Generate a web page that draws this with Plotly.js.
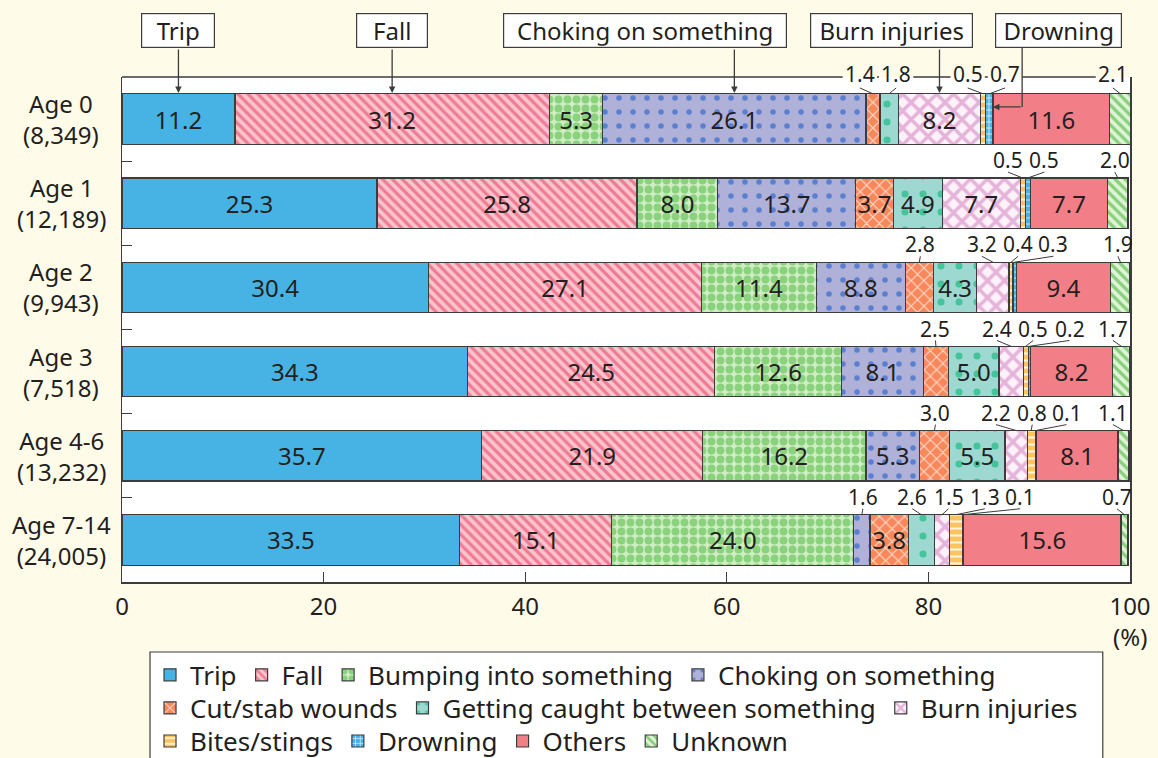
<!DOCTYPE html>
<html><head><meta charset="utf-8">
<script src="https://cdn.plot.ly/plotly-3.0.1.min.js"></script>
<style>html,body{margin:0;padding:0;background:#fffbe9;} #chart{width:1158px;height:758px;}</style>
</head><body><div id="chart"></div>
<script>
// ---------------- data ----------------
const ageGroups = ['Age 0', 'Age 1', 'Age 2', 'Age 3', 'Age 4-6', 'Age 7-14'];
const sampleSizes = ['8,349', '12,189', '9,943', '7,518', '13,232', '24,005'];
const causes = ['Trip', 'Fall', 'Bumping into something', 'Choking on something', 'Cut/stab wounds',
  'Getting caught between something', 'Burn injuries', 'Bites/stings', 'Drowning', 'Others', 'Unknown'];
const trip     = [11.2, 25.3, 30.4, 34.3, 35.7, 33.5];
const fall     = [31.2, 25.8, 27.1, 24.5, 21.9, 15.1];
const bumping  = [5.3, 8.0, 11.4, 12.6, 16.2, 24.0];
const choking  = [26.1, 13.7, 8.8, 8.1, 5.3, 1.6];
const cutStab  = [1.4, 3.7, 2.8, 2.5, 3.0, 3.8];
const caught   = [1.8, 4.9, 4.3, 5.0, 5.5, 2.6];
const burn     = [8.2, 7.7, 3.2, 2.4, 2.2, 1.5];
const bites    = [0.5, 0.5, 0.4, 0.5, 0.8, 1.3];
const drowning = [0.7, 0.5, 0.3, 0.2, 0.1, 0.1];
const others   = [11.6, 7.7, 9.4, 8.2, 8.1, 15.6];
const unknown  = [2.1, 2.0, 1.9, 1.7, 1.1, 0.7];
const xTickVals = [0, 20, 40, 60, 80, 100];
const xTickText = ['0', '20', '40', '60', '80', '100'];
const unitLabel = '(%)';
const topCallouts = ['Trip', 'Fall', 'Choking on something', 'Burn injuries', 'Drowning'];

// ---------------- layout config ----------------
const FONT = 'Noto Sans, sans-serif';
const TXT = '#231f20';
const LINE = '#3c3c3c';
const X_MAX = 100;
const INSIDE_MIN = 3.5;            // values below this get an outside callout
// x-position (in %) of outside callout labels, per row: {seriesIndex: x}
const calloutPos = [
  {4: 73.2, 5: 76.8, 7: 83.9, 8: 87.6, 10: 98.3},
  {7: 87.9, 8: 91.5, 10: 98.5},
  {4: 79.2, 6: 85.3, 7: 88.9, 8: 92.4, 10: 98.8},
  {4: 80.7, 6: 86.8, 7: 90.4, 8: 94.0, 10: 98.3},
  {4: 80.7, 6: 86.7, 7: 90.3, 8: 93.7, 10: 98.3},
  {3: 73.5, 5: 78.4, 6: 82.0, 7: 85.6, 8: 89.1, 10: 98.7}
];
// top boxes: box centre (% units, null => above its segment), box width px
const boxCfg = [
  {series: 0, cx: null, w: 75},
  {series: 1, cx: null, w: 73},
  {series: 3, cx: 51.9, w: 285},
  {series: 6, cx: 76.3, w: 164},
  {series: 8, cx: 92.9, w: 128, elbowX: 89.3, elbowY: -0.144}
];
const BOX_Y = 1.093, BOX_H = 36, BOX_BOTTOM_Y = -0.845;
const legendRows = [[0, 1, 2, 3], [4, 5, 6], [7, 8, 9, 10]];
const legendY = [-0.184, -0.2495, -0.315];

const styles = [
  {color: '#47b3e4'},
  {color: '#f8bcc6', pattern: {shape: '\\', fgcolor: '#ee7b93', bgcolor: '#f9c4cd', size: 7, solidity: 0.45}},
  {color: '#cdebc0', pattern: {shape: '.', fgcolor: '#8ad27e', bgcolor: '#d0edc4', size: 9, solidity: 0.6}},
  {color: '#aeb0d8', pattern: {shape: '.', fgcolor: '#5a7fcf', bgcolor: '#b0b1d9', size: 14, solidity: 0.12}},
  {color: '#f98b63', pattern: {shape: 'x', fgcolor: '#fddac7', bgcolor: '#f8875c', size: 9, solidity: 0.25}},
  {color: '#9ad9d0', pattern: {shape: '.', fgcolor: '#45c39b', bgcolor: '#9dd9d0', size: 18, solidity: 0.12}},
  {color: '#fbeef7', pattern: {shape: 'x', fgcolor: '#e5b3d9', bgcolor: '#fdf2f9', size: 12, solidity: 0.5}},
  {color: '#fdc86e', pattern: {shape: '-', fgcolor: '#fff4df', bgcolor: '#fcc461', size: 7, solidity: 0.3}},
  {color: '#47b3e4', pattern: {shape: '+', fgcolor: '#dff2fb', bgcolor: '#47b3e4', size: 6, solidity: 0.25}},
  {color: '#f27f88'},
  {color: '#d4eec8', pattern: {shape: '\\', fgcolor: '#86cf7b', bgcolor: '#dff3d6', size: 7, solidity: 0.45}}
];

// ---------------- build ----------------
const series = [trip, fall, bumping, choking, cutStab, caught, burn, bites, drowning, others, unknown];
const yIdx = ageGroups.map((_, i) => i);
const legendOf = {};
legendRows.forEach((row, r) => row.forEach(s => { legendOf[s] = r === 0 ? 'legend' : 'legend' + (r + 1); }));

// cumulative starts
const starts = yIdx.map(r => {
  let acc = 0;
  return series.map(vals => { const st = acc; acc += vals[r]; return st; });
});
const centre = (r, s) => starts[r][s] + series[s][r] / 2;

const traces = series.map((vals, s) => {
  const m = {color: styles[s].color, line: {color: LINE, width: 1.2}};
  if (styles[s].pattern) m.pattern = Object.assign({fillmode: 'replace'}, styles[s].pattern);
  return {
    type: 'bar', orientation: 'h', name: causes[s], x: vals, y: yIdx, width: 0.6,
    marker: m,
    text: vals.map(v => v >= INSIDE_MIN ? v.toFixed(1) : ''),
    textposition: 'inside', insidetextanchor: 'middle', textangle: 0, constraintext: 'none',
    textfont: {family: FONT, size: 24, color: TXT},
    hoverinfo: 'skip', legend: legendOf[s]
  };
});

const annotations = [];
const shapes = [];

// category labels
ageGroups.forEach((g, i) => annotations.push({
  text: g + '<br>(' + sampleSizes[i] + ')', xref: 'paper', x: -0.0605, xanchor: 'center',
  yref: 'y', y: i, yanchor: 'middle', showarrow: false, align: 'center',
  font: {family: FONT, size: 24, color: TXT}
}));

// outside callouts + leader lines
const topGaps = [];
calloutPos.forEach((row, r) => {
  Object.keys(row).forEach(k => {
    const s = +k, lx = row[k];
    const v = series[s][r];
    annotations.push({
      text: v.toFixed(1), xref: 'x', x: lx, yref: 'y', y: r - 0.5, yshift: r === 0 ? 3 : 1,
      showarrow: false, font: {family: FONT, size: 21, color: TXT}
    });
    shapes.push({type: 'line', xref: 'x', yref: 'y', x0: lx, y0: r - 0.37, x1: centre(r, s), y1: r - 0.3,
      line: {color: LINE, width: 1}});
    if (r === 0) topGaps.push([lx - 1.7, lx + 1.7]);
  });
});

// top frame line, broken around row-0 callouts
topGaps.sort((a, b) => a[0] - b[0]);
let cur = 0;
topGaps.forEach(g => {
  if (g[0] > cur) shapes.push({type: 'line', xref: 'paper', yref: 'paper', x0: cur / X_MAX, x1: g[0] / X_MAX, y0: 1, y1: 1, line: {color: LINE, width: 1.5}});
  cur = Math.max(cur, g[1]);
});
if (cur < X_MAX) shapes.push({type: 'line', xref: 'paper', yref: 'paper', x0: cur / X_MAX, x1: 1, y0: 1, y1: 1, line: {color: LINE, width: 1.5}});

// top boxed labels with arrows
boxCfg.forEach((b, k) => {
  const segC = centre(0, b.series);
  const cx = b.cx === null ? segC : b.cx;
  annotations.push({
    text: topCallouts[k], xref: 'x', x: cx, yref: 'paper', y: BOX_Y, yanchor: 'middle', valign: 'middle',
    showarrow: false, bgcolor: 'white', bordercolor: LINE, borderwidth: 1.2, borderpad: 1.5,
    width: b.w - 6, height: BOX_H - 6, font: {family: FONT, size: 24, color: TXT}
  });
  if (b.elbowX === undefined) {
    annotations.push({text: '', x: segC, y: -0.31, xref: 'x', yref: 'y', axref: 'x', ayref: 'y',
      ax: segC, ay: BOX_BOTTOM_Y, showarrow: true, arrowhead: 2, arrowsize: 1, arrowwidth: 1.3,
      arrowcolor: LINE, standoff: 0});
  } else {
    const endX = starts[0][b.series] + series[b.series][0];
    shapes.push({type: 'line', xref: 'paper', yref: 'paper', x0: b.elbowX / X_MAX, x1: b.elbowX / X_MAX,
      y0: BOX_Y - (BOX_H / 2) / 505, y1: (5.5 - b.elbowY) / 6, line: {color: LINE, width: 1.3}});
    annotations.push({text: '', x: endX, y: b.elbowY, xref: 'x', yref: 'y', axref: 'x', ayref: 'y',
      ax: b.elbowX, ay: b.elbowY, showarrow: true, arrowhead: 2, arrowsize: 1, arrowwidth: 1.3,
      arrowcolor: LINE, standoff: 0});
  }
});

// unit label
annotations.push({text: unitLabel, xref: 'paper', x: 1.0, xanchor: 'center', yref: 'paper', y: -0.108,
  yanchor: 'middle', showarrow: false, font: {family: FONT, size: 24, color: TXT}});

// legend frame
shapes.push({type: 'rect', xref: 'paper', yref: 'paper', x0: 0.0278, x1: 0.973, y0: -0.1386, y1: -0.5,
  line: {color: LINE, width: 1.2}, fillcolor: 'white', layer: 'below'});

const legendBase = (y) => ({orientation: 'h', x: 0.0278, xanchor: 'left', y: y, yanchor: 'middle',
  bgcolor: 'rgba(0,0,0,0)', borderwidth: 0, font: {family: FONT, size: 26, color: TXT}, traceorder: 'normal'});

const layout = {
  width: 1158, height: 758,
  margin: {l: 122, r: 28, t: 77, b: 176, autoexpand: false},
  paper_bgcolor: '#fffbe9', plot_bgcolor: 'white',
  barmode: 'stack', bargap: 0.4,
  font: {family: FONT, size: 24, color: TXT},
  showlegend: true,
  legend: legendBase(legendY[0]),
  legend2: legendBase(legendY[1]),
  legend3: legendBase(legendY[2]),
  xaxis: {range: [0, X_MAX], tickvals: xTickVals, ticktext: xTickText, ticks: 'inside', ticklen: 10,
    tickcolor: LINE, tickwidth: 1.2, showline: true, linecolor: LINE, linewidth: 1.5, mirror: false,
    ticklabelstandoff: 3,
    showgrid: false, zeroline: false, tickfont: {family: FONT, size: 24, color: TXT}, fixedrange: true},
  yaxis: {range: [ageGroups.length - 0.5, -0.5], tickvals: ageGroups.slice(1).map((_, i) => i + 0.5),
    ticks: 'inside', ticklen: 10, tickcolor: LINE, tickwidth: 1.2, showticklabels: false,
    showline: true, linecolor: LINE, linewidth: 1.5, mirror: true, showgrid: false, zeroline: false, fixedrange: true},
  annotations: annotations,
  shapes: shapes
};

Plotly.newPlot('chart', traces, layout, {displayModeBar: false, staticPlot: true});
</script>
</body></html>
